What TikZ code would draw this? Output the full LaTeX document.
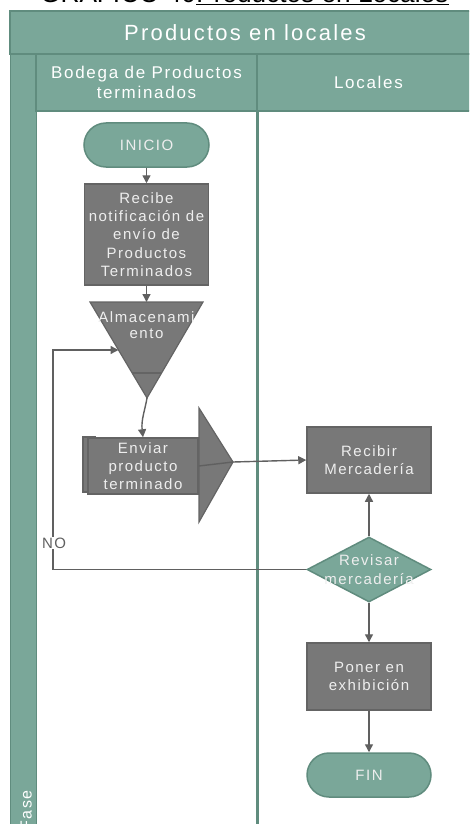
\documentclass[tikz,border=0pt]{standalone}
\usepackage{fontspec}
\setmainfont{Liberation Sans}
\newfontfamily\spacedfont[LetterSpace=10]{Liberation Sans}
\usetikzlibrary{positioning,shapes.geometric,arrows.meta,calc}

\definecolor{lanegreen}{RGB}{122,167,153}
\definecolor{laneedge}{RGB}{96,140,126}
\definecolor{procfill}{RGB}{120,120,120}
\definecolor{procedge}{RGB}{100,100,100}
\definecolor{flowline}{RGB}{96,96,96}
\definecolor{lighttext}{RGB}{238,238,238}

\newcommand\boxfont{\spacedfont\fontsize{15}{18.3}\selectfont}
\newcommand\headfont{\spacedfont\fontsize{17}{20}\selectfont}

\begin{document}
\begin{tikzpicture}[x=1pt,y=-1pt]
\tikzstyle{hdr} = [draw=laneedge, fill=lanegreen, line width=1.2pt, text=white, inner sep=0pt, align=center]
\tikzstyle{proceso} = [draw=procedge, fill=procfill, line width=1.5pt, text=lighttext, minimum width=124pt, inner sep=0pt, align=center, font=\boxfont]
\tikzstyle{terminal} = [draw=laneedge, fill=lanegreen, line width=1.5pt, rounded corners=22pt, minimum width=125pt, minimum height=44pt, text=lighttext, font=\boxfont]
\tikzstyle{decision} = [diamond, draw=laneedge, fill=lanegreen, line width=1.5pt, minimum width=124pt, minimum height=65pt, inner sep=0pt]
\tikzstyle{flujo} = [draw=flowline, line width=1.4pt, -{Triangle[length=8pt,width=8pt]}]

\useasboundingbox (0,0) rectangle (469,824);
\clip (0,0) rectangle (469,824);

% titulo
\node[anchor=base west, inner sep=0pt, font=\fontsize{26.2}{30}\selectfont] (ttl-a) at (40,3) {GRÁFICO 40\ };
\node[right=0pt of ttl-a.base east, anchor=base west, inner sep=0pt, font=\fontsize{26.2}{30}\selectfont] (ttl-b) {Productos en Locales};
\draw[line width=1.6pt] ([yshift=-1.6pt]ttl-b.base west) -- ([yshift=-1.6pt]ttl-b.base east);

% carriles
\node[hdr, minimum width=470pt, minimum height=43pt, font=\spacedfont\fontsize{22}{26}\selectfont] (pool) at (245,32.5) {Productos en locales};
\node[hdr, minimum width=26pt, minimum height=790pt, anchor=north west] (fase) at (10,54) {};
\node[hdr, minimum width=221pt, minimum height=57pt, font=\headfont] (lane1) at (146.5,82.5) {Bodega de Productos\\terminados};
\node[hdr, minimum width=223pt, minimum height=57pt, font=\headfont] (lane2) at (368.5,82.5) {\raisebox{-6pt}{Locales}};
\draw[laneedge, line width=2.5pt] (lane1.south east) -- ++(0,740);
\node[rotate=90, anchor=base east, inner sep=0pt, text=white, font=\spacedfont\fontsize{16}{18}\selectfont] (fase-txt) at (31.5,790) {Fase};

% bodega
\node[terminal] (inicio) at (146.5,145) {INICIO};
\node[proceso, minimum height=101pt] (recibe) at (146.5,234.5) {Recibe\\notificación de\\envío de\\Productos\\Terminados};

\coordinate (alm-tl) at (90,302);
\coordinate (alm-tr) at (203,302);
\coordinate (alm-tip) at (147,398);
\coordinate (alm-top) at (146.5,302);
\coordinate (alm-in) at ($(alm-tl)!0.5!(alm-tip)$);
\filldraw[fill=procfill, draw=procedge, line width=1.2pt] (alm-tl) -- (alm-tr) -- (alm-tip) -- cycle;
\draw[procedge, line width=1.2pt] ($(alm-tl)!0.74!(alm-tip)$) -- ($(alm-tr)!0.74!(alm-tip)$);
\node[text=lighttext, align=center, inner sep=0pt, font=\spacedfont\fontsize{15}{16.5}\selectfont] (almac) at (146.5,325) {Almacenami\\ento};

\filldraw[fill=procfill, draw=procedge, line width=1.2pt] (83,437) rectangle (95,492);
\coordinate (env-tip) at (233,462);
\filldraw[fill=procfill, draw=procedge, line width=1.2pt] (199,408) -- (env-tip) -- (199,522) -- cycle;
\node[proceso, minimum width=110pt, minimum height=56pt] (enviar) at (143,466) {Enviar\\producto\\terminado};

% locales
\node[proceso, minimum height=66pt] (recibir) at (369,460) {Recibir\\Mercadería};
\node[decision, label={[text=lighttext, align=center, font=\boxfont]center:Revisar\\mercadería}] (revisar) at (369,569.5) {};
\node[proceso, minimum height=67pt] (poner) at (369,676.5) {Poner en\\exhibición};
\node[terminal, minimum width=124pt] (fin) at (369,775) {FIN};

% flujo
\coordinate (loop) at (53,350);
\draw[flujo] (inicio) -- (recibe);
\draw[flujo] (recibe.south) -- (alm-top);
\draw[flujo] (alm-tip) .. controls (145,410) and (141,420) .. (enviar.north);
\draw[flujo] (enviar.east) -- (env-tip) -- (recibir.west);
\draw[flujo] (revisar.north) -- (recibir.south);
\draw[flujo] (revisar.south) -- (poner.north);
\draw[flujo] (poner.south) -- (fin.north);
\draw[flujo] (revisar.west) -| (loop) -- (alm-in);
\node[fill=white, inner sep=1pt, text=flowline, font=\spacedfont\fontsize{15}{18}\selectfont] (no) at (54,543) {NO};
\end{tikzpicture}
\end{document}
